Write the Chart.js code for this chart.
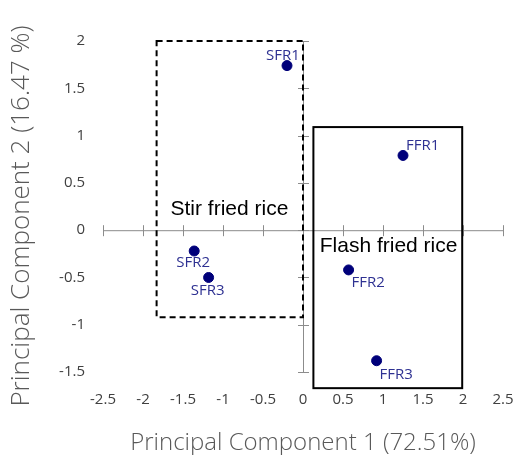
<!DOCTYPE html>
<html>
<head>
<meta charset="utf-8">
<script src="https://cdn.jsdelivr.net/npm/chart.js@4.4.1/dist/chart.umd.min.js"></script>
<style>
  html, body { margin: 0; padding: 0; background: #fff; }
  #wrap { width: 517px; height: 455px; }
</style>
</head>
<body>
<div id="wrap"><canvas id="pca-chart" width="517" height="455"></canvas></div>
<script>
// Dữ liệu PCA
const sampleNames = ['SFR1', 'SFR2', 'SFR3', 'FFR1', 'FFR2', 'FFR3'];
const pc1Values = [-0.20, -1.36, -1.18, 1.25, 0.57, 0.92];
const pc2Values = [1.74, -0.22, -0.50, 0.79, -0.42, -1.38];

const xTicks = [-2.5, -2, -1.5, -1, -0.5, 0, 0.5, 1, 1.5, 2, 2.5];
const yTicks = [-1.5, -1, -0.5, 0, 0.5, 1, 1.5, 2];

// Khung nhóm: [xMin, xMax, yMin, yMax]
const regionNames = ['Stir fried rice', 'Flash fried rice'];
const regionBounds = [[-1.83, 0.0, -0.92, 2.0], [0.13, 1.99, -1.67, 1.09]];
const regionTextX = [-0.92, 1.07];
const regionTextY = [0.22, -0.17];

// Vị trí nhãn so với điểm (style, không phải dữ liệu)
const labelOffsets = {
    SFR1: { dx: -4, dy: -10, align: 'center' },
    SFR2: { dx: -1, dy: 12, align: 'center' },
    SFR3: { dx: -1, dy: 13, align: 'center' },
    FFR1: { dx: 3, dy: -10, align: 'left' },
    FFR2: { dx: 3, dy: 13, align: 'left' },
    FFR3: { dx: 3, dy: 14, align: 'left' }
};

// Vẽ trục cắt nhau tại (0,0), khung nhóm và nhãn
const pcaDecor = {
    id: 'pcaDecor',
    beforeDatasetsDraw(chart) {
        const ctx = chart.ctx;
        const xs = chart.scales.x, ys = chart.scales.y;
        const x0 = xs.getPixelForValue(0), y0 = ys.getPixelForValue(0);
        ctx.save();
        ctx.strokeStyle = '#8c8c8c';
        ctx.lineWidth = 1;
        ctx.beginPath();
        ctx.moveTo(xs.getPixelForValue(xTicks[0]), y0 + 0.5);
        ctx.lineTo(xs.getPixelForValue(xTicks[xTicks.length - 1]), y0 + 0.5);
        ctx.moveTo(x0 + 0.5, ys.getPixelForValue(yTicks[0]));
        ctx.lineTo(x0 + 0.5, ys.getPixelForValue(yTicks[yTicks.length - 1]));
        xTicks.forEach(v => {
            const px = Math.round(xs.getPixelForValue(v)) + 0.5;
            ctx.moveTo(px, y0 - 5);
            ctx.lineTo(px, y0 + 6);
        });
        yTicks.forEach(v => {
            const py = Math.round(ys.getPixelForValue(v)) + 0.5;
            ctx.moveTo(x0 - 5, py);
            ctx.lineTo(x0 + 6, py);
        });
        ctx.stroke();

        // Khung
        ctx.strokeStyle = '#000';
        ctx.lineWidth = 2;
        regionBounds.forEach((b, i) => {
            const l = xs.getPixelForValue(b[0]), r = xs.getPixelForValue(b[1]);
            const bt = ys.getPixelForValue(b[2]), t = ys.getPixelForValue(b[3]);
            ctx.setLineDash(i === 0 ? [6, 4] : []);
            ctx.strokeRect(l, t, r - l, bt - t);
        });
        ctx.setLineDash([]);

        ctx.fillStyle = '#000';
        ctx.font = '21px "Liberation Sans", Arial, sans-serif';
        ctx.textAlign = 'center';
        ctx.textBaseline = 'middle';
        regionNames.forEach((name, i) => {
            ctx.fillText(name, xs.getPixelForValue(regionTextX[i]), ys.getPixelForValue(regionTextY[i]));
        });
        ctx.restore();
    },
    afterDatasetsDraw(chart) {
        const ctx = chart.ctx;
        const meta = chart.getDatasetMeta(0);
        ctx.save();
        ctx.fillStyle = '#2e3192';
        ctx.font = '15px "Open Sans", sans-serif';
        ctx.textBaseline = 'middle';
        meta.data.forEach((pt, i) => {
            const o = labelOffsets[sampleNames[i]];
            ctx.textAlign = o.align;
            ctx.fillText(sampleNames[i], pt.x + o.dx, pt.y + o.dy);
        });
        ctx.restore();
    }
};

const tickFont = { family: '"Open Sans", sans-serif', size: 15 };

new Chart(document.getElementById('pca-chart').getContext('2d'), {
    type: 'scatter',
    data: {
        datasets: [{
            data: pc1Values.map((x, i) => ({ x: x, y: pc2Values[i] })),
            backgroundColor: '#00007a',
            borderColor: '#00007a',
            pointRadius: 5,
            pointHoverRadius: 5
        }]
    },
    options: {
        responsive: false,
        animation: false,
        layout: { padding: { top: 41, right: 14, left: 0, bottom: 0 } },
        plugins: {
            legend: { display: false },
            tooltip: { enabled: false }
        },
        scales: {
            x: {
                type: 'linear',
                min: -2.5,
                max: 2.5,
                afterBuildTicks: s => { s.ticks = xTicks.map(v => ({ value: v })); },
                afterFit: s => { s.height = 64; },
                grid: { display: false, drawTicks: false },
                border: { display: false },
                ticks: {
                    font: tickFont, color: '#404040', padding: 0, maxRotation: 0, autoSkip: false,
                    callback: v => String(v)
                },
                title: {
                    display: true,
                    text: 'Principal Component 1 (72.51%)',
                    font: { family: '"Open Sans", sans-serif', size: 24, weight: '300', lineHeight: 1 },
                    color: '#595959',
                    padding: { top: 0, bottom: 0 }
                }
            },
            y: {
                type: 'linear',
                min: -1.7,
                max: 2,
                afterBuildTicks: s => { s.ticks = yTicks.map(v => ({ value: v })); },
                afterFit: s => { s.width = 103; },
                grid: { display: false, drawTicks: false },
                border: { display: false },
                ticks: {
                    font: tickFont, color: '#404040', padding: 18, autoSkip: false,
                    callback: v => String(v)
                },
                title: {
                    display: true,
                    text: 'Principal Component 2 (16.47 %)',
                    font: { family: '"Open Sans", sans-serif', size: 26, weight: '300', lineHeight: 1 },
                    color: '#595959',
                    padding: { top: 9, bottom: 0 }
                }
            }
        }
    },
    plugins: [pcaDecor]
});
</script>
</body>
</html>
